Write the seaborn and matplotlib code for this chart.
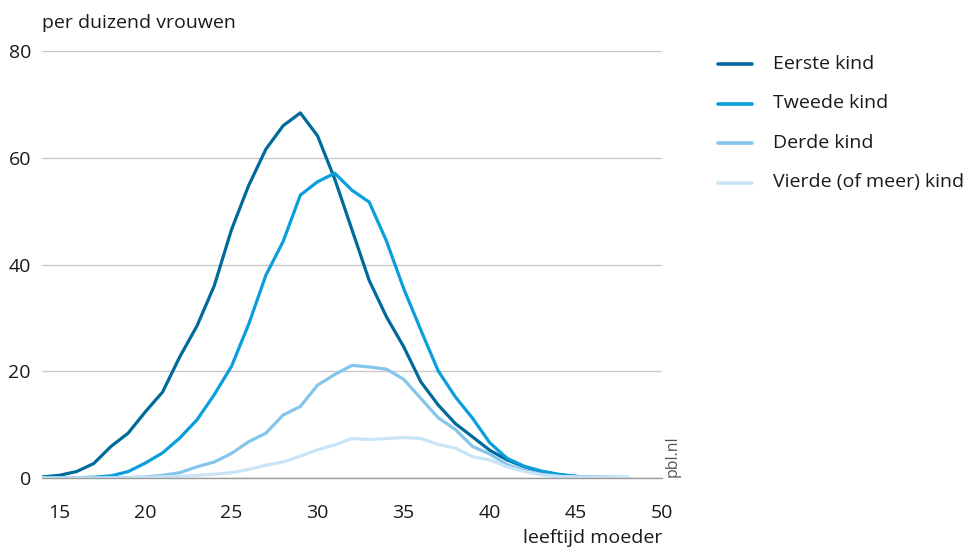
import numpy as np
import pandas as pd
import matplotlib
matplotlib.use("Agg")
import matplotlib.pyplot as plt
import seaborn as sns

# leeftijd moeder
leeftijd = list(range(14, 49))

eerste = [0.2, 0.5, 1.2, 2.7, 5.9, 8.4, 12.4, 16.1, 22.7, 28.5, 36.0, 46.5, 54.8, 61.6,
          66.0, 68.4, 64.1, 56.0, 46.5, 37.0, 30.2, 24.6, 18.0, 13.7, 10.2, 7.7, 5.2,
          3.4, 2.1, 1.2, 0.6, 0.3, 0.15, 0.1, 0.05]
tweede = [0.0, 0.0, 0.05, 0.15, 0.4, 1.2, 2.8, 4.7, 7.5, 10.9, 15.6, 20.9, 28.8, 38.0,
          44.3, 53.0, 55.5, 57.1, 53.9, 51.7, 44.4, 35.5, 27.7, 20.1, 15.2, 11.2, 6.6,
          3.7, 2.2, 1.3, 0.7, 0.3, 0.15, 0.1, 0.05]
derde = [0.0, 0.0, 0.0, 0.0, 0.05, 0.1, 0.2, 0.5, 1.0, 2.1, 3.0, 4.6, 6.8, 8.4,
         11.8, 13.4, 17.4, 19.4, 21.1, 20.8, 20.4, 18.5, 14.9, 11.3, 9.1, 5.9, 4.5,
         2.5, 1.4, 0.7, 0.3, 0.15, 0.1, 0.1, 0.1]
vierde = [0.0, 0.0, 0.0, 0.0, 0.0, 0.05, 0.1, 0.2, 0.3, 0.5, 0.7, 1.0, 1.6, 2.4,
          3.0, 4.1, 5.3, 6.2, 7.4, 7.2, 7.4, 7.6, 7.4, 6.3, 5.6, 4.0, 3.4,
          2.1, 1.2, 0.6, 0.3, 0.2, 0.2, 0.2, 0.2]

reeksen = ["Eerste kind", "Tweede kind", "Derde kind", "Vierde (of meer) kind"]
kleuren = ["#006b9b", "#0a9edc", "#85c5ec", "#c9e4f7"]

df = pd.DataFrame({
    "leeftijd": leeftijd * 4,
    "waarde": eerste + tweede + derde + vierde,
    "reeks": np.repeat(reeksen, len(leeftijd)),
})

sns.set_style("white")
plt.rcParams["font.family"] = ["Open Sans", "DejaVu Sans"]

fig = plt.figure(figsize=(9.66, 5.47), dpi=100)
ax = fig.add_axes([42 / 966, 1 - 478 / 547, 620 / 966, 427 / 547])

sns.lineplot(data=df, x="leeftijd", y="waarde", hue="reeks", hue_order=reeksen,
             palette=kleuren, linewidth=2.3, ax=ax, legend=False)

ax.set_xlim(14, 50)
ax.set_ylim(0, 80)
ax.set_yticks([0, 20, 40, 60, 80])
ax.set_xticks([15, 20, 25, 30, 35, 40, 45, 50])
ax.grid(axis="y", color="#c8c8c8", linewidth=1.0)
ax.set_axisbelow(True)
for s in ["left", "right", "top"]:
    ax.spines[s].set_visible(False)
ax.spines["bottom"].set_color("#9a9a9a")
ax.spines["bottom"].set_linewidth(1.0)
ax.tick_params(axis="x", direction="out", length=10, width=1, color="#9a9a9a",
               labelsize=14, pad=9, labelcolor="#1a1a1a")
ax.tick_params(axis="y", length=0, labelsize=14, pad=8, labelcolor="#1a1a1a")
ax.set_xlabel("")
ax.set_ylabel("")

fig.text(42 / 966, 1 - 23 / 547, "per duizend vrouwen", fontsize=14,
         color="#1a1a1a", ha="left", va="center")
fig.text(662 / 966, 1 - 538 / 547, "leeftijd moeder", fontsize=14,
         color="#1a1a1a", ha="right", va="center")
fig.text(673 / 966, 1 - 456 / 547, "pbl.nl", fontsize=11.5, color="#555555",
         rotation=90, ha="center", va="center")

# legenda
for i, (naam, kleur) in enumerate(zip(reeksen, kleuren)):
    y = 1 - (64 + i * 39.5) / 547
    fig.add_artist(plt.Line2D([718 / 966, 752 / 966], [y, y], color=kleur,
                              linewidth=2.6, transform=fig.transFigure))
    fig.text(773 / 966, y, naam, fontsize=14, color="#1a1a1a",
             ha="left", va="center")

fig.savefig("out.png", dpi=100)
